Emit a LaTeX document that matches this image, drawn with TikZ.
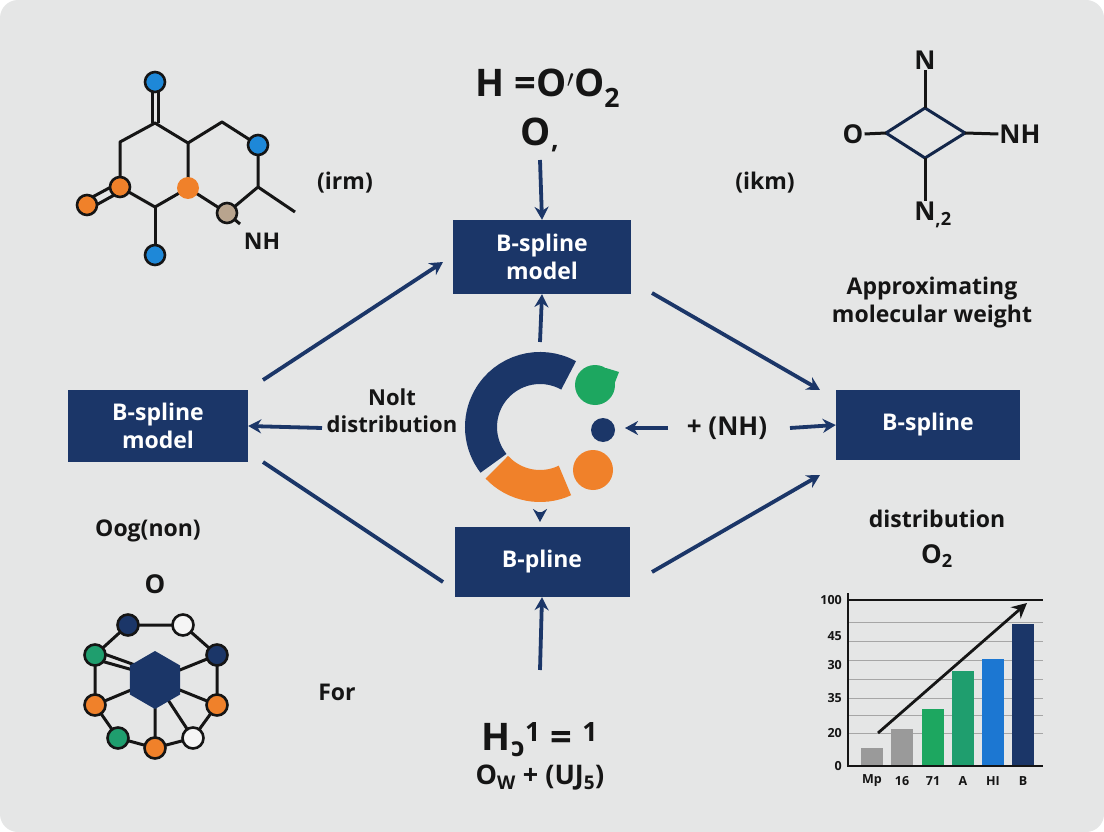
\documentclass[tikz,border=0pt]{standalone}
\usepackage{fontspec}
\usepackage{graphicx}
\setmainfont{Open Sans}
\usetikzlibrary{arrows.meta,calc}
\definecolor{navy}{HTML}{1B3668}
\definecolor{bg}{HTML}{E5E6E6}
\definecolor{orng}{HTML}{F0812A}
\definecolor{blu}{HTML}{1E88D8}
\definecolor{tan}{HTML}{B8A48E}
\definecolor{grn}{HTML}{1DA760}
\definecolor{teal}{HTML}{1F9E6E}
\definecolor{bblue}{HTML}{1C77D2}
\definecolor{gry}{HTML}{9A9A9A}
\definecolor{ink}{HTML}{151515}
\begin{document}
\begin{tikzpicture}[x=1pt,y=-1pt,
  box/.style={fill=navy,text=white,font=\fontsize{23}{28}\selectfont\bfseries,align=center,inner sep=0pt},
  lbl/.style={text=ink,font=\fontsize{23}{28}\selectfont\bfseries,align=center,inner sep=1pt},
  big/.style={text=ink,font=\fontsize{38}{42}\selectfont\bfseries,inner sep=1pt},
  arr/.style={navy,line width=3.8pt,-{Stealth[length=13pt,width=14pt]}},
  ln/.style={navy,line width=3.8pt},
  bond/.style={ink,line width=3pt},
  atom/.style={circle,draw=ink,line width=2.6pt,minimum size=20pt,inner sep=0pt},
  ax/.style={font=\fontsize{12.5}{14}\selectfont\bfseries,text=ink,inner sep=1pt}]
\useasboundingbox (0,0) rectangle (1104,832);
\fill[white] (0,0) rectangle (1104,832);
\fill[bg,rounded corners=18pt] (0,0) rectangle (1104,832);

% boxes
\node[box,minimum width=178pt,minimum height=74pt] (top) at (542,257) {B-spline\\model};
\node[box,minimum width=180pt,minimum height=72pt] (left) at (158,426) {B-spline\\model};
\node[box,minimum width=184pt,minimum height=70pt] (right) at (928,425) {B-spline};
\node[box,minimum width=175pt,minimum height=70pt] (bot) at (542,562) {B-pline};

% texts
\node[big] (t1) at (548,88) {H =O$^{\prime}$O\textsubscript{2}};
\node[big] (t2) at (540,135) {O\textsubscript{,}};
\node[big] (b1) at (540,740) {H\textsubscript{\scalebox{-1}[1]{c}}\textsuperscript{1} = \textsuperscript{1}};
\node[lbl,font=\fontsize{27}{30}\selectfont\bfseries] (b2) at (540,778) {O\textsubscript{W} + (UJ\textsubscript{5})};
\node[lbl,font=\fontsize{22}{27}\selectfont\bfseries] (nolt) at (392,411) {Nolt\\distribution};
\node[lbl,font=\fontsize{26}{28}\selectfont\bfseries] (nh) at (727,428) {+ (NH)};
\node[lbl] (irm) at (345,183) {(irm)};
\node[lbl] (ikm) at (765,183) {(ikm)};
\node[lbl] (appr) at (932,303) {Approximating\\molecular weight};
\node[lbl] (dist) at (937,519) {distribution};
\node[lbl,font=\fontsize{26}{28}\selectfont\bfseries] (o2) at (937,556) {O\textsubscript{2}};
\node[lbl] (oog) at (148,531) {Oog(non)};
\node[lbl,font=\fontsize{26}{28}\selectfont\bfseries] (oo) at (155,584) {O};
\node[lbl] (for) at (337,692) {For};

% ring
\coordinate (c) at (540,427);
\draw[navy,line width=32pt] ($(c)+(-61:59)$) arc[start angle=-61,end angle=-218,radius=59];
\draw[orng,line width=32pt] ($(c)+(-223:59)$) arc[start angle=-223,end angle=-295,radius=59];
\fill[grn] (595,385) circle (20);
\fill[grn] (606,368) -- (619,372) -- (612,390) -- cycle;
\fill[navy] (603,430) circle (12);
\fill[orng] (593,470) circle (20);
\coordinate (ringT) at (540,342);
\coordinate (ringB) at (540,512);
\coordinate (ringL) at (322,428);
\coordinate (dotR) at (625,428);
\coordinate (l1) at (263,380);
\coordinate (l2) at (443,262);
\coordinate (r1) at (652,293);
\coordinate (r2) at (820,390);

% connectors
\draw[arr] (l1) -- (l2);
\draw[arr] (r1) -- (r2);
\draw[ln] (263,462) -- (443,582);
\draw[arr] (652,572) -- (820,475);
\draw[arr] (540,160) -- (top.north);
\draw[arr] (ringT) -- (top.south);
\draw[arr] (ringB) -- (540,522);
\draw[arr] (540,670) -- (bot.south);
\draw[arr] (ringL) -- (left.east);
\draw[arr] (668,428) -- (dotR);
\draw[arr] (790,428) -- (right.west);

% molecule top-left
\coordinate (a1) at (155,123); \coordinate (a2) at (120,142);
\coordinate (a3) at (120,187); \coordinate (a4) at (155,207);
\coordinate (a5) at (188,188); \coordinate (a6) at (188,143);
\coordinate (a7) at (222,122); \coordinate (a8) at (258,145);
\coordinate (a9) at (258,187); \coordinate (a10) at (227,213);
\draw[bond,line join=round] (a1)--(a2)--(a3)--(a4)--(a5)--(a6)--cycle;
\draw[bond,line join=round] (a6)--(a7)--(a8)--(a9)--(a10)--(a5);
\draw[bond] (a9)--(295,212);
\draw[bond] (a10)--(240,224);
\draw[bond] ([xshift=-3pt]a1)--(152,82); \draw[bond] ([xshift=3pt]a1)--(158,82);
\draw[bond] ($(a3)+(-1.5,-4)$)--(85,201); \draw[bond] ($(a3)+(1.5,4)$)--(89,209);
\draw[bond] (a4)--(155,255);
\node[atom,fill=blu] (m1) at (155,82) {};
\node[atom,fill=blu] (m2) at (258,145) {};
\node[atom,fill=orng] (m3) at (120,187) {};
\node[atom,fill=orng] (m4) at (87,205) {};
\node[circle,fill=orng,minimum size=22pt,inner sep=0pt] (m5) at (188,188) {};
\node[atom,fill=tan] (m6) at (227,213) {};
\node[atom,fill=blu] (m7) at (155,255) {};
\node[lbl] (nh1) at (262,241) {NH};

% molecule bottom-left
\coordinate (h) at (155,680);
\coordinate (p1) at (128,625); \coordinate (p2) at (183,625);
\coordinate (p3) at (217,655); \coordinate (p4) at (217,705);
\coordinate (p5) at (193,738); \coordinate (p6) at (155,748);
\coordinate (p7) at (118,738); \coordinate (p8) at (95,705);
\coordinate (p9) at (95,655);
\draw[bond] (p1)--(p2)--(p3)--(p4)--(p5)--(p6)--(p7)--(p8)--(p9)--cycle;
\draw[bond] (h)--(p3) (h)--(p4) (h)--(p8) (h)--(p6) (h)--(p5);
\draw[bond] ($(p9)+(1,-4)$)--(135,665); \draw[bond] ($(p9)+(-1,4)$)--(133,670);
\fill[navy] (h) ++(90:29) -- ++(-30:29) -- ++(-90:29) -- ++(-150:29) -- ++(150:29) -- ++(90:29) -- cycle;
\foreach \p/\f in {p1/navy,p2/bg!40!white,p3/navy,p4/orng,p5/bg!40!white,p6/orng,p7/teal,p8/orng,p9/teal}
  \draw[ink,line width=2.6pt,fill=\f] (\p) circle (10.5);

% molecule top-right
\coordinate (d1) at (925,108); \coordinate (d2) at (965,133);
\coordinate (d3) at (925,158); \coordinate (d4) at (886,133);
\draw[navy!70!black,line width=3pt,line join=round] (d1)--(d2)--(d3)--(d4)--cycle;
\node[lbl,font=\fontsize{26}{28}\selectfont\bfseries] (nn) at (925,60) {N};
\node[lbl,font=\fontsize{26}{28}\selectfont\bfseries] (ox) at (853,134) {O};
\node[lbl,font=\fontsize{26}{28}\selectfont\bfseries] (nh2) at (1020,134) {NH};
\node[lbl,font=\fontsize{26}{28}\selectfont\bfseries] (n2) at (933,215) {N\textsubscript{,2}};
\draw[bond] (nn.south)--(d1);
\draw[bond] (ox.east)--(d4);
\draw[bond] (d2)--(nh2.west);
\draw[bond] (d3)--(n2.north-|d3);

% chart
\foreach \y in {622,641,660,679,698,715,733} \draw[gray!70,line width=0.7pt] (848,\y)--(1043,\y);
\draw[ink,line width=2.6pt] (848,600)--(1043,600);
\fill[gry] (861,748) rectangle (883,765);
\fill[gry] (891,729) rectangle (913,765);
\fill[grn] (922,709) rectangle (944,765);
\fill[teal] (952,671) rectangle (974,765);
\fill[bblue] (982,659) rectangle (1004,765);
\fill[navy] (1012,624) rectangle (1034,765);
\draw[ink,line width=2.4pt] (848,593)--(848,766)--(1043,766);
\foreach \y/\t in {600/100,636/45,665/30,698/35,733/20,766/0} \node[ax,anchor=east] at (843,\y) {\t};
\foreach \x/\t in {872/Mp,902/16,933/71,963/A,993/HI,1023/B} \node[ax] at (\x,781) {\t};
\coordinate (ca) at (878,733); \coordinate (cb) at (1027,603);
\draw[ink,line width=2.8pt,-{Stealth[length=15pt,width=15pt]}] (ca)--(cb);
\end{tikzpicture}
\end{document}
